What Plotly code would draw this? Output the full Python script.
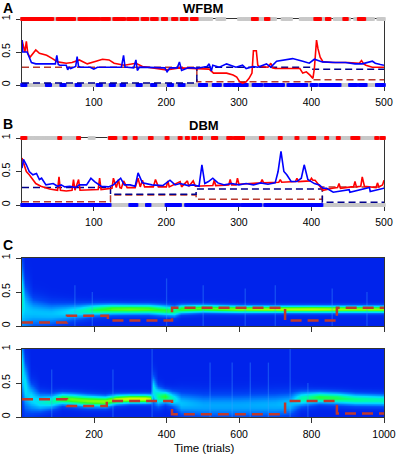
import numpy as np
import plotly.graph_objects as go

W, H = 397, 456

# ---------------- Panel A (WFBM) ----------------
A_red_t = [1, 3, 5, 7, 9, 12, 16, 20, 25, 35, 43, 50, 62, 70, 80, 91, 103, 112, 121, 128, 142, 158, 167, 186,
           200, 218, 236, 245, 259, 265, 283, 292, 297, 301, 305, 310, 314, 318, 320, 324, 326, 328, 340, 344,
           346, 350, 384, 388, 393, 398, 402, 404, 407, 409, 412, 416, 429, 450, 466, 469, 472, 475, 484, 500]
A_red_v = [0.68, 0.6, 0.5, 0.66, 0.48, 0.42, 0.48, 0.53, 0.48, 0.45, 0.4, 0.35, 0.33, 0.34, 0.38, 0.32, 0.36,
           0.39, 0.38, 0.33, 0.3, 0.33, 0.28, 0.25, 0.23, 0.26, 0.25, 0.25, 0.24, 0.18, 0.18, 0.15, 0.12, 0.05,
           0.03, 0.05, 0.1, 0.18, 0.52, 0.52, 0.3, 0.28, 0.27, 0.33, 0.26, 0.25, 0.25, 0.18, 0.2, 0.15, 0.1,
           0.25, 0.68, 0.55, 0.42, 0.35, 0.34, 0.34, 0.33, 0.37, 0.32, 0.3, 0.27, 0.27]
A_blue_t = [1, 2, 4, 8, 11, 14, 20, 47, 49, 51, 53, 62, 64, 66, 68, 75, 77, 79, 82, 95, 100, 105, 110, 138,
            141, 143, 146, 155, 158, 160, 163, 170, 185, 198, 201, 205, 215, 218, 221, 230, 238, 241, 250, 256,
            259, 262, 264, 273, 283, 290, 296, 305, 310, 320, 326, 338, 344, 352, 365, 374, 388, 397, 404, 415,
            433, 447, 460, 470, 484, 488, 495, 500]
A_blue_v = [0.68, 0.5, 0.5, 0.5, 0.42, 0.34, 0.32, 0.32, 0.45, 0.31, 0.3, 0.3, 0.23, 0.27, 0.25, 0.28, 0.43,
            0.28, 0.27, 0.27, 0.24, 0.27, 0.27, 0.27, 0.45, 0.27, 0.27, 0.26, 0.38, 0.22, 0.27, 0.27, 0.26,
            0.26, 0.2, 0.26, 0.26, 0.35, 0.22, 0.26, 0.26, 0.25, 0.27, 0.28, 0.32, 0.21, 0.3, 0.27, 0.32, 0.29,
            0.27, 0.3, 0.25, 0.28, 0.27, 0.32, 0.27, 0.36, 0.38, 0.4, 0.36, 0.33, 0.39, 0.35, 0.34, 0.34, 0.32,
            0.32, 0.36, 0.33, 0.31, 0.3]
A_true1_t = [1, 242, 402, 500]
A_true1_v = [0.27, 0.05, 0.08, 0.08]
A_true2_t = [1, 242, 402, 500]
A_true2_v = [0.03, 0.27, 0.24, 0.24]
A_top_gray = [[1, 262], [270, 280], [300, 350], [360, 372], [385, 425], [432, 452], [460, 485], [492, 500]]
A_top_red = [[1, 12], [14, 25], [27, 43], [50, 58], [60, 73], [80, 92], [95, 107], [111, 121], [128, 135],
             [138, 142], [147, 153], [156, 160], [167, 174], [180, 187], [195, 200], [209, 214], [221, 228],
             [235, 242], [319, 325], [337, 341], [405, 412], [421, 425], [445, 449], [465, 473]]
A_bot_gray = [[1, 500]]
A_bot_blue = [[1, 6], [35, 40], [55, 60], [76, 81], [105, 110], [123, 128], [138, 142], [160, 165],
              [180, 185], [203, 208], [218, 224], [246, 255], [265, 274], [281, 288], [292, 311], [320, 331],
              [336, 361], [368, 393], [400, 407], [412, 426], [428, 439], [453, 462], [466, 475], [490, 500]]

# ---------------- Panel B (DBM) ----------------
B_red_t = [1, 3, 7, 11, 16, 20, 27, 39, 50, 52, 54, 62, 70, 72, 74, 79, 81, 100, 106, 108, 110, 125, 127,
           131, 134, 136, 138, 141, 146, 157, 161, 164, 167, 170, 182, 185, 189, 200, 202, 204, 219, 221,
           229, 231, 237, 240, 245, 264, 266, 268, 286, 288, 290, 296, 298, 300, 330, 332, 334, 355, 357, 359,
           378, 380, 382, 398, 400, 402, 405, 416, 429, 436, 438, 440, 455, 458, 460, 462, 468, 470, 473, 485,
           489, 491, 493, 498, 500]
B_red_v = [0.7, 0.62, 0.5, 0.45, 0.37, 0.32, 0.28, 0.24, 0.22, 0.42, 0.22, 0.21, 0.22, 0.38, 0.22, 0.38,
           0.22, 0.23, 0.23, 0.4, 0.23, 0.25, 0.4, 0.26, 0.38, 0.26, 0.25, 0.36, 0.26, 0.26, 0.4, 0.27, 0.37,
           0.27, 0.27, 0.38, 0.27, 0.27, 0.36, 0.27, 0.35, 0.27, 0.36, 0.28, 0.36, 0.28, 0.28, 0.29, 0.37,
           0.29, 0.3, 0.38, 0.3, 0.3, 0.4, 0.31, 0.33, 0.38, 0.33, 0.34, 0.38, 0.34, 0.35, 0.4, 0.35, 0.36,
           0.4, 0.37, 0.37, 0.22, 0.25, 0.26, 0.32, 0.25, 0.27, 0.27, 0.35, 0.27, 0.28, 0.42, 0.28, 0.26,
           0.26, 0.33, 0.27, 0.3, 0.37]
B_blue_t = [1, 3, 7, 11, 16, 21, 25, 28, 34, 44, 50, 55, 60, 67, 75, 80, 90, 96, 101, 110, 120, 127, 137,
            142, 150, 157, 161, 167, 180, 195, 205, 212, 219, 230, 237, 245, 249, 253, 258, 264, 271, 280,
            290, 300, 310, 320, 330, 340, 350, 354, 358, 362, 366, 372, 380, 386, 390, 395, 404, 411, 416,
            421, 430, 452, 453, 480, 481, 500]
B_blue_v = [0.55, 0.68, 0.6, 0.5, 0.45, 0.47, 0.38, 0.4, 0.3, 0.32, 0.28, 0.3, 0.27, 0.28, 0.26, 0.3, 0.3,
            0.4, 0.35, 0.28, 0.27, 0.3, 0.4, 0.3, 0.3, 0.28, 0.48, 0.33, 0.3, 0.29, 0.37, 0.3, 0.32, 0.29,
            0.3, 0.28, 0.6, 0.32, 0.35, 0.4, 0.33, 0.3, 0.32, 0.3, 0.32, 0.3, 0.33, 0.31, 0.33, 0.5, 0.8, 0.5,
            0.45, 0.35, 0.35, 0.4, 0.6, 0.38, 0.32, 0.3, 0.25, 0.25, 0.19, 0.23, 0.19, 0.26, 0.2, 0.25]
B_true1_t = [1, 123, 241, 415, 500]
B_true1_v = [0.05, 0.15, 0.085, 0.27, 0.27]
B_true2_t = [1, 123, 241, 415, 500]
B_true2_v = [0.26, 0.16, 0.24, 0.04, 0.04]
B_top_gray = [[8, 51], [58, 79], [94, 100], [121, 180], [184, 500]]
B_top_red = [[1, 6], [52, 54], [78, 80], [122, 130], [142, 144], [156, 158], [177, 180], [200, 202],
             [218, 220], [228, 230], [237, 240], [246, 248], [264, 269], [285, 290], [294, 306], [330, 333],
             [356, 358], [379, 381], [397, 404], [420, 422], [436, 438], [456, 465], [489, 491], [496, 500]]
B_bot_gray = [[1, 500]]
B_bot_blue = [[1, 122], [150, 159], [173, 177], [200, 219], [227, 300], [304, 330], [336, 414]]

# ---------------- Panel C (posterior densities, 1000 trials) ----------------
C1_t = [1, 10, 30, 80, 120, 160, 200, 250, 300, 350, 400, 420, 440, 500, 600, 700, 800, 900, 1000]
C1_mu = [0.4, 0.25, 0.2, 0.18, 0.2, 0.22, 0.24, 0.25, 0.25, 0.25, 0.23, 0.22, 0.25, 0.26, 0.25, 0.25, 0.25,
         0.25, 0.25]
C1_sd = [0.35, 0.25, 0.15, 0.12, 0.1, 0.08, 0.065, 0.058, 0.055, 0.055, 0.058, 0.058, 0.05, 0.045, 0.042,
         0.04, 0.04, 0.04, 0.04]
C1_amp = [0.55, 0.42, 0.4, 0.4, 0.44, 0.52, 0.66, 0.76, 0.78, 0.76, 0.7, 0.64, 0.74, 0.78, 0.82, 0.86, 0.88,
          0.84, 0.84]
C1_true_t = [1, 125, 238, 415, 727, 870, 1000]
C1_true_v = [0.05, 0.15, 0.08, 0.27, 0.08, 0.27, 0.27]
C1_streak_t = [147, 195, 400, 501, 617, 700, 857, 953]
C1_streak_top = [0.6, 0.5, 0.7, 0.6, 0.55, 0.6, 0.55, 0.5]

C2_t = [1, 10, 25, 50, 80, 110, 140, 180, 230, 260, 300, 340, 355, 362, 375, 395, 415, 440, 500, 600, 700,
        740, 770, 820, 870, 920, 1000]
C2_mu = [0.7, 0.45, 0.28, 0.22, 0.23, 0.27, 0.26, 0.24, 0.23, 0.26, 0.27, 0.27, 0.27, 0.4, 0.3, 0.3, 0.27,
         0.2, 0.17, 0.17, 0.18, 0.2, 0.27, 0.29, 0.28, 0.26, 0.25]
C2_sd = [0.3, 0.25, 0.15, 0.1, 0.08, 0.065, 0.065, 0.065, 0.06, 0.055, 0.05, 0.05, 0.05, 0.15, 0.1, 0.07,
         0.08, 0.12, 0.13, 0.13, 0.13, 0.12, 0.08, 0.065, 0.065, 0.065, 0.065]
C2_amp = [0.5, 0.48, 0.46, 0.5, 0.58, 0.74, 0.78, 0.8, 0.82, 0.86, 0.92, 0.92, 0.85, 0.5, 0.62, 0.72, 0.55,
          0.4, 0.35, 0.35, 0.37, 0.4, 0.58, 0.7, 0.68, 0.62, 0.56]
C2_true_t = [1, 125, 235, 415, 727, 870, 1000]
C2_true_v = [0.26, 0.16, 0.235, 0.04, 0.235, 0.05, 0.05]
C2_streak_t = [83, 252, 360, 520, 581, 631, 681, 741, 790]
C2_streak_top = [0.7, 0.7, 1.0, 0.8, 0.8, 0.8, 0.8, 1.0, 0.5]

p_grid = np.linspace(0.005, 0.995, 100)

RED = '#FF0000'
BLUE = '#0000FF'
BROWN = '#B83A2E'
NAVY = '#00008B'
GRAY = '#C8C8C8'
FONT = 'Liberation Sans, Arial, sans-serif'


def expand(ranges):
    return [t for a, b in ranges for t in range(a, b + 1)]


def row(ranges, yval, color, xa, ya, size=3.5):
    ts = expand(ranges)
    return go.Scatter(x=ts, y=[yval] * len(ts), mode='markers', cliponaxis=False,
                      marker=dict(symbol='square', size=size, color=color, line=dict(width=0)),
                      xaxis=xa, yaxis=ya, hoverinfo='skip', showlegend=False)


def step(ts, vs, color, xa, ya, width=1.5, dash='7px,4px'):
    return go.Scatter(x=ts, y=vs, mode='lines', line=dict(color=color, width=width, dash=dash, shape='hv'),
                      xaxis=xa, yaxis=ya, hoverinfo='skip', showlegend=False)


def line(ts, vs, color, xa, ya):
    return go.Scatter(x=ts, y=vs, mode='lines', line=dict(color=color, width=1.6),
                      xaxis=xa, yaxis=ya, hoverinfo='skip', showlegend=False)


def density(ts, mu, sd, amp):
    mu = np.array(mu)[None, :]
    sd = np.array(sd)[None, :]
    amp = np.array(amp)[None, :]
    return amp * np.exp(-0.5 * ((p_grid[:, None] - mu) / sd) ** 2)


def streaks(ts, tops, xa, ya):
    xs, ys = [], []
    for t, top in zip(ts, tops):
        xs += [t, t, None]
        ys += [0, top, None]
    return go.Scatter(x=xs, y=ys, mode='lines', line=dict(color='rgba(60,160,255,0.35)', width=1.3),
                      xaxis=xa, yaxis=ya, hoverinfo='skip', showlegend=False)


cscale = [[0.0, 'rgb(0,35,235)'], [0.15, 'rgb(0,70,245)'], [0.3, 'rgb(0,140,255)'],
          [0.45, 'rgb(0,220,255)'], [0.6, 'rgb(0,255,160)'], [0.72, 'rgb(40,255,40)'],
          [0.85, 'rgb(170,255,0)'], [1.0, 'rgb(255,255,0)']]

fig = go.Figure()

# Panel A
fig.add_trace(row(A_top_gray, 1, GRAY, 'x', 'y'))
fig.add_trace(row(A_bot_gray, 0, GRAY, 'x', 'y'))
fig.add_trace(row(A_top_red, 1, RED, 'x', 'y'))
fig.add_trace(row(A_bot_blue, 0, BLUE, 'x', 'y'))
fig.add_trace(step(A_true1_t, A_true1_v, BROWN, 'x', 'y'))
fig.add_trace(step(A_true2_t, A_true2_v, NAVY, 'x', 'y'))
fig.add_trace(line(A_red_t, A_red_v, RED, 'x', 'y'))
fig.add_trace(line(A_blue_t, A_blue_v, BLUE, 'x', 'y'))

# Panel B
fig.add_trace(row(B_top_gray, 1, GRAY, 'x2', 'y2'))
fig.add_trace(row(B_bot_gray, 0, GRAY, 'x2', 'y2'))
fig.add_trace(row(B_top_red, 1, RED, 'x2', 'y2'))
fig.add_trace(row(B_bot_blue, 0, BLUE, 'x2', 'y2'))
fig.add_trace(step(B_true1_t, B_true1_v, BROWN, 'x2', 'y2'))
fig.add_trace(step(B_true2_t, B_true2_v, NAVY, 'x2', 'y2'))
fig.add_trace(line(B_red_t, B_red_v, RED, 'x2', 'y2'))
fig.add_trace(line(B_blue_t, B_blue_v, BLUE, 'x2', 'y2'))

# Panel C top
fig.add_trace(go.Heatmap(x=C1_t, y=p_grid, z=density(C1_t, C1_mu, C1_sd, C1_amp), colorscale=cscale,
                         zmin=0, zmax=1, zsmooth='best', showscale=False, hoverinfo='skip',
                         xaxis='x3', yaxis='y3'))
fig.add_trace(streaks(C1_streak_t, C1_streak_top, 'x3', 'y3'))
fig.add_trace(step(C1_true_t, C1_true_v, '#C0392B', 'x3', 'y3', width=2.5, dash='11px,6px'))

# Panel C bottom
fig.add_trace(go.Heatmap(x=C2_t, y=p_grid, z=density(C2_t, C2_mu, C2_sd, C2_amp), colorscale=cscale,
                         zmin=0, zmax=1, zsmooth='best', showscale=False, hoverinfo='skip',
                         xaxis='x4', yaxis='y4'))
fig.add_trace(streaks(C2_streak_t, C2_streak_top, 'x4', 'y4'))
fig.add_trace(step(C2_true_t, C2_true_v, '#C0392B', 'x4', 'y4', width=2.5, dash='11px,6px'))


def ydom(y0px, y1px):
    return [1 - y0px / H, 1 - y1px / H]


xdom = [22 / W, 384 / W]
common = dict(showline=True, mirror=True, linecolor='#333', linewidth=1, ticks='outside', ticklen=5,
              tickwidth=1, tickcolor='#333', showgrid=False, zeroline=False, automargin=False,
              tickfont=dict(family=FONT, size=10.5, color='black'))
yax = dict(common, range=[0, 1], tickvals=[0, 0.5, 1], ticktext=['0', '0.5', '1'], tickangle=-90,
           ticklabelstandoff=2)
xax = dict(common, ticklabelstandoff=2)
below = dict(layer='below traces')

fig.update_layout(
    width=W, height=H, margin=dict(l=0, r=0, t=0, b=0, autoexpand=False),
    paper_bgcolor='white', plot_bgcolor='white', showlegend=False,
    xaxis=dict(xax, **below, domain=xdom, range=[1, 500], tickvals=[100, 200, 300, 400, 500], anchor='y'),
    yaxis=dict(yax, **below, domain=ydom(85, 19), anchor='x'),
    xaxis2=dict(xax, **below, domain=xdom, range=[1, 500], tickvals=[100, 200, 300, 400, 500], anchor='y2'),
    yaxis2=dict(yax, **below, domain=ydom(205, 138), anchor='x2'),
    xaxis3=dict(xax, domain=xdom, range=[1, 1000], tickvals=[200, 400, 600, 800, 1000],
                showticklabels=False, anchor='y3'),
    yaxis3=dict(yax, domain=ydom(326, 258), anchor='x3'),
    xaxis4=dict(xax, domain=xdom, range=[1, 1000], tickvals=[200, 400, 600, 800, 1000], anchor='y4'),
    yaxis4=dict(yax, domain=ydom(417, 349), anchor='x4'),
)


def label(text, xpx, ypx, size, bold=True):
    fig.add_annotation(x=xpx / W, y=1 - ypx / H, xref='paper', yref='paper', showarrow=False,
                       text=f'<b>{text}</b>' if bold else text, xanchor='center', yanchor='middle',
                       font=dict(family=FONT, size=size, color='black'))


label('A', 8, 8, 14)
label('WFBM', 203, 8, 13)
label('B', 8, 124, 14)
label('DBM', 204, 125, 13)
label('C', 8, 245, 14)
label('Time (trials)', 204, 448, 11.5, bold=False)

fig.write_html('out.html', config={'displayModeBar': False, 'staticPlot': True},
               post_script="document.body.style.margin='0';document.body.style.overflow='hidden';")
